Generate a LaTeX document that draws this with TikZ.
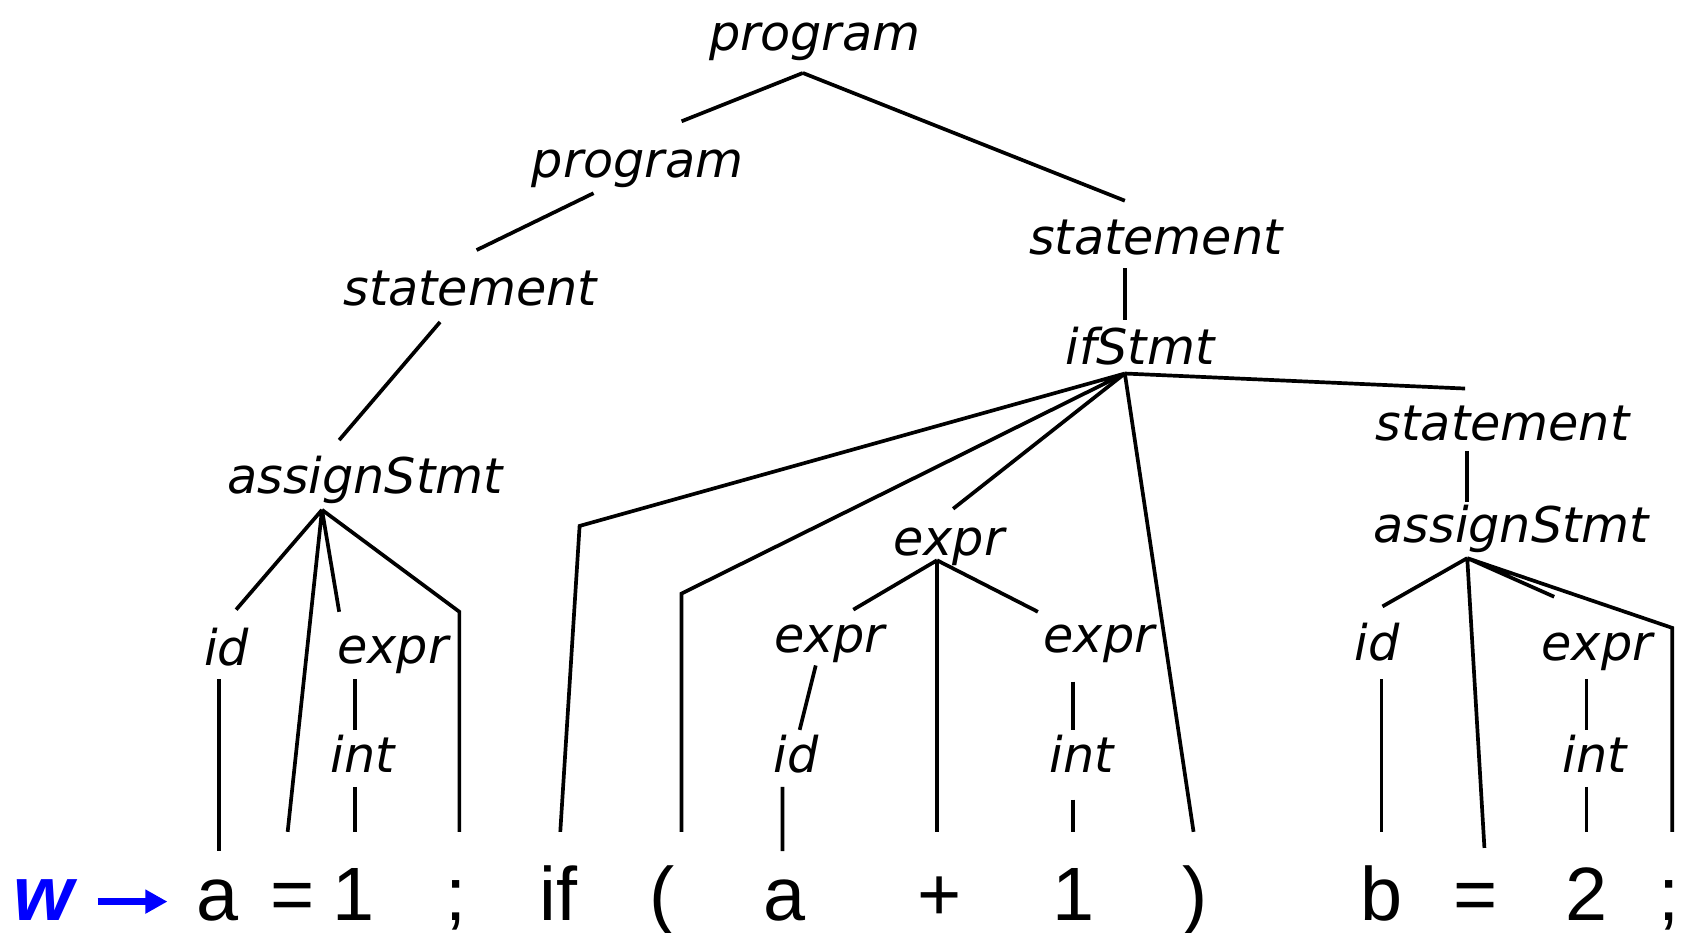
\documentclass[tikz,border=0pt]{standalone}
\usepackage{fontspec}
\usepackage{xcolor}
\setmainfont{Liberation Sans}
\newfontfamily\vfont{DejaVu Sans}
\usetikzlibrary{arrows.meta}

\begin{document}
\begin{tikzpicture}[x=0.010733cm,y=-0.010733cm,line width=1.05pt]
        \tikzstyle{nonterm}=[font=\vfont\itshape\fontsize{14}{16}\selectfont,anchor=base,inner sep=0pt]
        \tikzstyle{terminal}=[font=\fontsize{21.5}{25}\selectfont,anchor=base,inner sep=0pt]

        \useasboundingbox (0,0) rectangle (1568,868.4);

        % nonterminals
        \node[nonterm] (P0) at (759,47) {program};
        \node[nonterm] (P1) at (594,165) {program};
        \node[nonterm] (S1) at (438,285) {statement};
        \node[nonterm] (A1) at (340,460) {assignStmt};
        \node[nonterm] (D1) at (211,620) {id};
        \node[nonterm] (E1) at (366,618) {expr};
        \node[nonterm] (N1) at (338,720) {int};
        \node[nonterm] (S2) at (1077,237) {statement};
        \node[nonterm] (I) at (1062,340) {ifStmt};
        \node[nonterm] (E2) at (884,518) {expr};
        \node[nonterm] (E3) at (773,608) {expr};
        \node[nonterm] (D2) at (742,720) {id};
        \node[nonterm] (E4) at (1024,608) {expr};
        \node[nonterm] (N2) at (1008,720) {int};
        \node[nonterm] (S3) at (1400,410) {statement};
        \node[nonterm] (A2) at (1408,505) {assignStmt};
        \node[nonterm] (D3) at (1283,615) {id};
        \node[nonterm] (E5) at (1488,615) {expr};
        \node[nonterm] (N3) at (1486,720) {int};

        % terminals
        \node[terminal,text=blue,font=\fontsize{22}{25}\selectfont\bfseries\itshape] (w) at (41,858) {w};
        \node[terminal] (t1) at (203,858) {a};
        \node[terminal] (t2) at (273,858) {=};
        \node[terminal] (t3) at (329,858) {1};
        \node[terminal] (t4) at (425,858) {;};
        \node[terminal] (t5) at (520,858) {if};
        \node[terminal] (t6) at (617,858) {(};
        \node[terminal] (t7) at (731,858) {a};
        \node[terminal] (t8) at (875,858) {+};
        \node[terminal] (t9) at (1000,858) {1};
        \node[terminal] (t10) at (1113,858) {)};
        \node[terminal] (t11) at (1287,858) {b};
        \node[terminal] (t12) at (1375,858) {=};
        \node[terminal] (t13) at (1478,858) {2};
        \node[terminal] (t14) at (1555,858) {;};

        % line ends
        \coordinate (P0f) at (748,68);
        \coordinate (P1t) at (635,113);
        \coordinate (S2t) at (1048,187);
        \coordinate (P1f) at (553,180);
        \coordinate (S1t) at (444,233);
        \coordinate (S1f) at (410,300);
        \coordinate (A1t) at (316,410);
        \coordinate (A1f) at (300,475);
        \coordinate (D1t) at (220,568);
        \coordinate (E1t) at (316,570);
        \coordinate (k1) at (428,570);
        \coordinate (D1f) at (204,633);
        \coordinate (E1f) at (331,633);
        \coordinate (N1t) at (331,680);
        \coordinate (N1f) at (331,733);
        \coordinate (t1t) at (204,793);
        \coordinate (t2t) at (268,775);
        \coordinate (t3t) at (331,775);
        \coordinate (t4t) at (428,775);
        \coordinate (S2f) at (1048,250);
        \coordinate (It) at (1048,298);
        \coordinate (If) at (1048,348);
        \coordinate (k2) at (540,490);
        \coordinate (k3) at (635,553);
        \coordinate (E2t) at (888,474);
        \coordinate (S3t) at (1365,362);
        \coordinate (t5t) at (522,775);
        \coordinate (t6t) at (635,775);
        \coordinate (t10t) at (1112,775);
        \coordinate (E2f) at (873,522);
        \coordinate (E3t) at (795,568);
        \coordinate (E4t) at (967,570);
        \coordinate (t8t) at (873,775);
        \coordinate (E3f) at (760,620);
        \coordinate (D2t) at (745,680);
        \coordinate (D2f) at (729,733);
        \coordinate (t7t) at (729,793);
        \coordinate (E4f) at (1000,635);
        \coordinate (N2t) at (1000,680);
        \coordinate (N2f) at (1000,745);
        \coordinate (t9t) at (1000,775);
        \coordinate (S3f) at (1367,420);
        \coordinate (A2t) at (1367,468);
        \coordinate (A2f) at (1367,520);
        \coordinate (D3t) at (1288,565);
        \coordinate (E5t) at (1448,556);
        \coordinate (k4) at (1558,585);
        \coordinate (D3f) at (1287,633);
        \coordinate (E5f) at (1478,633);
        \coordinate (N3t) at (1478,680);
        \coordinate (N3f) at (1478,733);
        \coordinate (t11t) at (1287,775);
        \coordinate (t12t) at (1383,790);
        \coordinate (t13t) at (1478,775);
        \coordinate (t14t) at (1558,775);
        \coordinate (w1) at (91,840);
        \coordinate (w2) at (156,840);

        % left part
        \draw (P0f) -- (P1t) (P0f) -- (S2t);
        \draw (P1f) -- (S1t) (S1f) -- (A1t);
        \draw (A1f) -- (D1t) (A1f) -- (t2t) (A1f) -- (E1t) (A1f) -- (k1) -- (t4t);
        \draw (D1f) -- (t1t) (E1f) -- (N1t) (N1f) -- (t3t);

        % if statement
        \draw (S2f) -- (It);
        \draw (If) -- (k2) -- (t5t) (If) -- (k3) -- (t6t);
        \draw (If) -- (E2t) (If) -- (t10t) (If) -- (S3t);
        \draw (E2f) -- (E3t) (E2f) -- (t8t) (E2f) -- (E4t);
        \draw (E3f) -- (D2t) (D2f) -- (t7t);
        \draw (E4f) -- (N2t) (N2f) -- (t9t);

        % right part
        \draw (S3f) -- (A2t);
        \draw (A2f) -- (D3t) (A2f) -- (t12t) (A2f) -- (E5t) (A2f) -- (k4) -- (t14t);
        \draw (D3f) -- (t11t) (E5f) -- (N3t) (N3f) -- (t13t);

        \draw[blue,line width=1.9pt,-{Triangle[length=6.3pt,width=6.5pt]}] (w1) -- (w2);
\end{tikzpicture}
\end{document}
